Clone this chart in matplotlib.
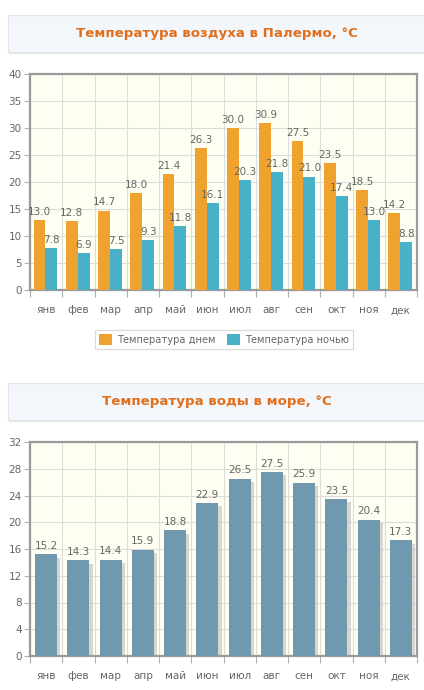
import numpy as np
import matplotlib
matplotlib.use('Agg')
import matplotlib.pyplot as plt
import matplotlib.ticker as mticker
from matplotlib.patches import Rectangle

months = ['янв', 'фев', 'мар', 'апр', 'май', 'июн', 'июл', 'авг', 'сен', 'окт', 'ноя', 'дек']
air_day = [13.0, 12.8, 14.7, 18.0, 21.4, 26.3, 30.0, 30.9, 27.5, 23.5, 18.5, 14.2]
air_night = [7.8, 6.9, 7.5, 9.3, 11.8, 16.1, 20.3, 21.8, 21.0, 17.4, 13.0, 8.8]
water = [15.2, 14.3, 14.4, 15.9, 18.8, 22.9, 26.5, 27.5, 25.9, 23.5, 20.4, 17.3]

title_air = 'Температура воздуха в Палермо, °C'
title_water = 'Температура воды в море, °C'
leg_day = 'Температура днем'
leg_night = 'Температура ночью'

C_DAY = '#EFA22E'
C_NIGHT = '#46B1C7'
C_WATER = '#7098AF'
C_TITLE = '#E0701E'
C_BG = '#FFFEF3'
C_GRID = '#DCDCDC'
C_SPINE = '#9A9A9A'
C_TXT = '#666666'

plt.rcParams['font.family'] = ['DejaVu Sans']

W, H = 424, 690
fig = plt.figure(figsize=(W / 100, H / 100), dpi=100)


def px_axes(l, t, r, b):
    return fig.add_axes([l / W, 1 - b / H, (r - l) / W, (b - t) / H])


def title_box(y0, y1, text):
    # тень + рамка заголовка
    fig.patches.append(Rectangle((9 / W, 1 - (y1 + 2) / H), 1, (y1 - y0) / H,
                                 transform=fig.transFigure, facecolor='#E4E4E4',
                                 edgecolor='none', zorder=0))
    fig.patches.append(Rectangle((8 / W, 1 - y1 / H), 1, (y1 - y0) / H,
                                 transform=fig.transFigure, facecolor='#F3F6FA',
                                 edgecolor='#E2E6EA', lw=0.8, zorder=1))
    fig.text(217 / W, 1 - (y0 + y1) / 2 / H, text, ha='center', va='center',
             color=C_TITLE, fontsize=9.6, fontweight='bold', zorder=2)


def style_axes(ax, ymax, ystep):
    n = len(months)
    ax.set_facecolor(C_BG)
    ax.set_xlim(0, n)
    ax.set_ylim(0, ymax)
    ax.yaxis.set_major_locator(mticker.MultipleLocator(ystep))
    ax.set_xticks(np.arange(n) + 0.5)
    ax.set_xticklabels(months)
    ax.set_xticks(np.arange(n + 1), minor=True)
    ax.tick_params(axis='x', which='major', length=0, pad=11, labelsize=7.5, colors=C_TXT)
    ax.tick_params(axis='x', which='minor', length=5, width=0.8, color='#B0B0B0')
    ax.tick_params(axis='y', length=4, width=0.8, color='#B0B0B0', labelsize=7.5,
                   labelcolor=C_TXT, pad=2)
    ax.grid(True, which='minor', axis='x', color=C_GRID, lw=0.8)
    ax.grid(True, which='major', axis='y', color=C_GRID, lw=0.8)
    ax.set_axisbelow(True)
    for s in ax.spines.values():
        s.set_color(C_SPINE)
        s.set_linewidth(1.6)


# ── Температура воздуха ──
title_box(15, 52, title_air)
ax1 = px_axes(30, 74, 417, 290)
x = np.arange(len(months)) + 0.5
bw = 0.37
b1 = ax1.bar(x - bw / 2 - 0.02, air_day, width=bw, color=C_DAY, zorder=3)
b2 = ax1.bar(x + bw / 2 - 0.02, air_night, width=bw, color=C_NIGHT, zorder=3)
for xi, v in zip(x - bw / 2 - 0.02, air_day):
    ax1.text(xi, v + 0.6, f'{v:.1f}', ha='center', va='bottom', fontsize=7.5,
             color=C_TXT, zorder=5)
for xi, v in zip(x + bw / 2 - 0.02, air_night):
    ax1.text(xi, v + 0.6, f'{v:.1f}', ha='center', va='bottom', fontsize=7.5,
             color=C_TXT, zorder=5)
style_axes(ax1, 40, 5)
leg = fig.legend([b1, b2], [leg_day, leg_night], loc='center',
                 bbox_to_anchor=(224 / W, 1 - 339.5 / H), ncol=2, frameon=True,
                 fancybox=False, fontsize=7.1, handlelength=1.3, handleheight=1.3,
                 handletextpad=0.5, columnspacing=1.2, borderpad=0.45,
                 labelcolor=C_TXT)
leg.get_frame().set_edgecolor('#D0D0D0')
leg.get_frame().set_linewidth(0.8)

# ── Температура воды ──
title_box(383, 420, title_water)
ax2 = px_axes(30, 442, 417, 656)
wb = 0.68
ax2.bar(x + 0.1, np.array(water) - 0.5, width=wb, color='#C9C9C9', alpha=0.75, zorder=2)
ax2.bar(x, water, width=wb, color=C_WATER, zorder=3)
for xi, v in zip(x, water):
    ax2.text(xi, v + 0.5, f'{v:.1f}', ha='center', va='bottom', fontsize=7.5,
             color=C_TXT, zorder=5)
style_axes(ax2, 32, 4)

fig.savefig('out.png', dpi=100)
